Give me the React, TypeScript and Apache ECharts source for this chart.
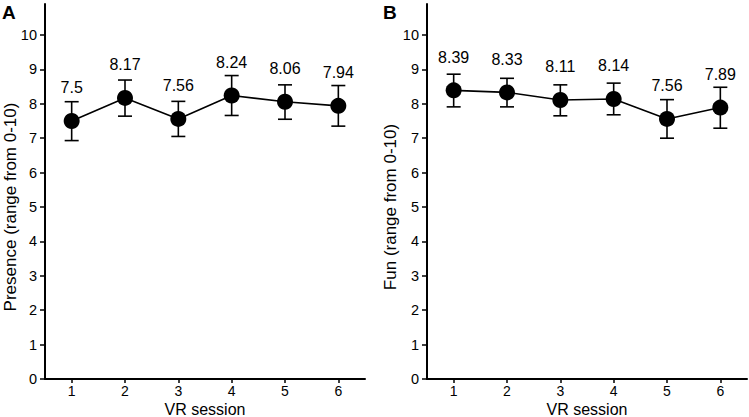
import React, { useEffect, useRef } from 'react';
import * as echarts from 'echarts';

const sessions = ['1', '2', '3', '4', '5', '6'];
const presenceMean = [7.5, 8.17, 7.56, 8.24, 8.06, 7.94];
const presenceLow = [6.93, 7.64, 7.05, 7.66, 7.55, 7.35];
const presenceHigh = [8.06, 8.69, 8.07, 8.82, 8.55, 8.53];
const funMean = [8.39, 8.33, 8.11, 8.14, 7.56, 7.89];
const funLow = [7.91, 7.91, 7.65, 7.68, 7.0, 7.29];
const funHigh = [8.86, 8.74, 8.55, 8.6, 8.12, 8.48];
const yTicks = [0, 1, 2, 3, 4, 5, 6, 7, 8, 9, 10];

const FONT = '"Liberation Sans", Arial, Helvetica, sans-serif';

function errorRender(params: any, api: any) {
  const x = api.value(0);
  const lo = api.coord([x, api.value(1)]);
  const hi = api.coord([x, api.value(2)]);
  const w = 7;
  const style = { stroke: '#000', lineWidth: 1.6 };
  return {
    type: 'group',
    children: [
      { type: 'line', shape: { x1: lo[0], y1: lo[1], x2: hi[0], y2: hi[1] }, style },
      { type: 'line', shape: { x1: hi[0] - w, y1: hi[1], x2: hi[0] + w, y2: hi[1] }, style },
      { type: 'line', shape: { x1: lo[0] - w, y1: lo[1], x2: lo[0] + w, y2: lo[1] }, style },
    ],
  };
}

function makeX(gridIndex: number) {
  return {
    type: 'category',
    gridIndex,
    data: sessions,
    boundaryGap: true,
    name: 'VR session',
    nameLocation: 'middle',
    nameGap: 22,
    nameMoveOverlap: false,
    nameTextStyle: { color: '#000', fontSize: 16, fontFamily: FONT, lineHeight: 16 },
    axisLine: { lineStyle: { color: '#000', width: 2 } },
    axisTick: { show: true, alignWithLabel: true, length: 4, lineStyle: { color: '#000', width: 1.5 } },
    axisLabel: { color: '#000', fontSize: 14, lineHeight: 14, fontFamily: FONT, margin: 5 },
    splitLine: { show: false },
  };
}

function makeY(gridIndex: number) {
  return {
    type: 'value',
    gridIndex,
    min: 0,
    max: 10.9,
    interval: 1,
    axisLine: { show: true, lineStyle: { color: '#000', width: 2 } },
    axisTick: { show: true, length: 5, customValues: yTicks, lineStyle: { color: '#000', width: 1.5 } },
    axisLabel: { color: '#000', fontSize: 14.5, fontFamily: FONT, margin: 8, customValues: yTicks },
    splitLine: { show: false },
  };
}

function makeLine(idx: number, means: number[]) {
  return {
    type: 'line',
    xAxisIndex: idx,
    yAxisIndex: idx,
    data: means,
    symbol: 'circle',
    symbolSize: 16,
    itemStyle: { color: '#000' },
    lineStyle: { color: '#000', width: 1.6 },
    z: 3,
    label: {
      show: true,
      position: 'top',
      distance: 17,
      color: '#000',
      fontSize: 16,
      fontFamily: FONT,
      formatter: (p: any) => String(p.value),
    },
  };
}

function makeErr(idx: number, low: number[], high: number[]) {
  return {
    type: 'custom',
    xAxisIndex: idx,
    yAxisIndex: idx,
    renderItem: errorRender,
    encode: { x: 0, y: [1, 2] },
    data: low.map((l, i) => [i, l, high[i]]),
    z: 2,
  };
}

export default function App() {
  const ref = useRef<HTMLDivElement>(null);
  useEffect(() => {
    if (!ref.current) return;
    const chart = echarts.init(ref.current, undefined, { renderer: 'svg' });
    chart.setOption({
      animation: false,
      backgroundColor: '#fff',
      textStyle: { fontFamily: FONT },
      grid: [
        { left: 45, top: 4, width: 320, height: 375, containLabel: false, outerBoundsMode: 'none' },
        { left: 427, top: 4, width: 320, height: 375, containLabel: false, outerBoundsMode: 'none' },
      ],
      xAxis: [makeX(0), makeX(1)],
      yAxis: [makeY(0), makeY(1)],
      series: [
        makeErr(0, presenceLow, presenceHigh),
        makeLine(0, presenceMean),
        makeErr(1, funLow, funHigh),
        makeLine(1, funMean),
      ],
      graphic: [
        { type: 'text', left: 2, top: 3, style: { text: 'A', fontSize: 19, fontWeight: 'bold', fill: '#000', fontFamily: FONT } },
        { type: 'text', left: 383, top: 3, style: { text: 'B', fontSize: 19, fontWeight: 'bold', fill: '#000', fontFamily: FONT } },
        {
          type: 'text', x: 10, y: 207, rotation: Math.PI / 2,
          style: { text: 'Presence (range from 0-10)', fontSize: 17, fill: '#000', fontFamily: FONT, align: 'center', verticalAlign: 'middle' },
        },
        {
          type: 'text', x: 390, y: 207, rotation: Math.PI / 2,
          style: { text: 'Fun (range from 0-10)', fontSize: 17, fill: '#000', fontFamily: FONT, align: 'center', verticalAlign: 'middle' },
        },
      ],
    });
    return () => chart.dispose();
  }, []);
  return <div ref={ref} style={{ position: 'fixed', left: 0, top: 0, width: 749, height: 417 }} />;
}
